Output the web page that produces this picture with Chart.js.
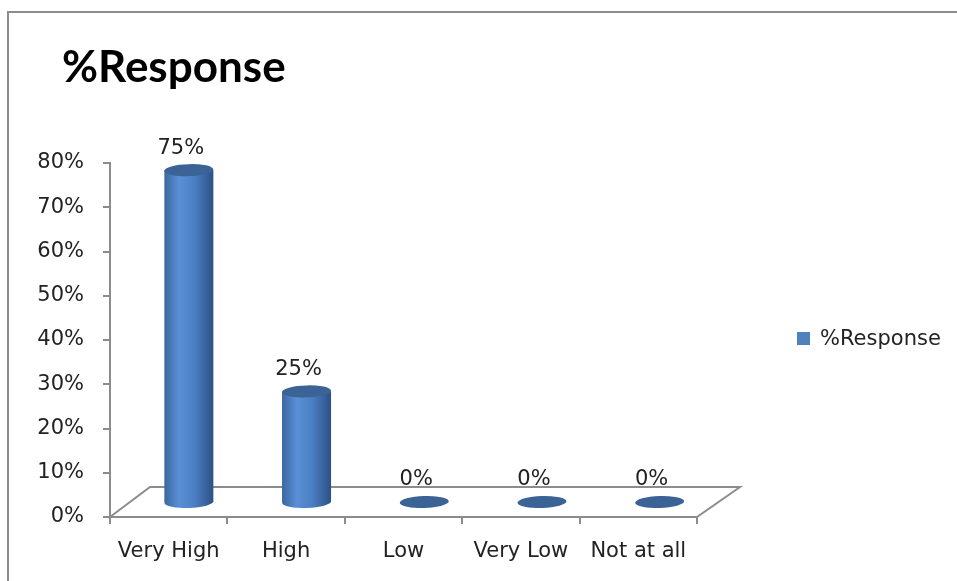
<!DOCTYPE html>
<html lang="en">
<head>
<meta charset="UTF-8">
<title>%Response</title>
<style>
  body { margin: 0; background: white; }
  #wrap { position: relative; width: 957px; height: 581px; }
</style>
</head>
<body>
<div id="wrap"><canvas id="responseChart"></canvas></div>
<script src="https://cdn.jsdelivr.net/npm/chart.js"></script>
<script>
const categories = ['Very High', 'High', 'Low', 'Very Low', 'Not at all'];
const responses = [75, 25, 0, 0, 0];
const yTicks = [0, 10, 20, 30, 40, 50, 60, 70, 80];
const seriesName = '%Response';

const axisGray = '#8c8c8c';
const textColor = '#222222';
const labelFont = { family: 'DejaVu Sans', size: 21 };
const seriesBlue = '#4f81bd';

// depth of the 3D floor (back edge sits up and to the right of the front edge)
const depthLeft = 40, depthRight = 43, depthY = 30;
const cylRx = 24.5, cylRy = 6;

function depthAt(area, x) {
    return depthLeft + (depthRight - depthLeft) * (x - area.left) / (area.right - area.left);
}

const cylinderPlugin = {
    id: 'cylinders',
    beforeDatasetsDraw(chart) {
        const { ctx, chartArea: a } = chart;
        ctx.save();
        // outer frame (only top and left edges fall inside the canvas)
        ctx.strokeStyle = axisGray;
        ctx.lineWidth = 2;
        ctx.beginPath();
        ctx.moveTo(8, 581);
        ctx.lineTo(8, 12);
        ctx.lineTo(957, 12);
        ctx.stroke();

        // floor outline behind the bars
        ctx.beginPath();
        ctx.moveTo(a.left, a.bottom);
        ctx.lineTo(a.left + depthLeft, a.bottom - depthY);
        ctx.lineTo(a.right + depthRight, a.bottom - depthY);
        ctx.lineTo(a.right, a.bottom);
        ctx.stroke();
        ctx.restore();
    },
    afterDatasetsDraw(chart) {
        const { ctx, chartArea: a } = chart;
        const yScale = chart.scales.y;
        const meta = chart.getDatasetMeta(0);
        ctx.save();
        meta.data.forEach((bar, i) => {
            const value = chart.data.datasets[0].data[i];
            const dx = depthAt(a, bar.x) / 2;
            const cx = bar.x + dx;
            const base = yScale.getPixelForValue(0) - depthY / 2;
            const top = yScale.getPixelForValue(value) - depthY / 2;

            const grad = ctx.createLinearGradient(cx - cylRx, 0, cx + cylRx, 0);
            grad.addColorStop(0, '#3a67a0');
            grad.addColorStop(0.3, '#5a8fd6');
            grad.addColorStop(0.6, '#4c80c4');
            grad.addColorStop(1, '#2c5286');

            if (base - top > 0) {
                ctx.fillStyle = grad;
                ctx.fillRect(cx - cylRx, top, cylRx * 2, base - top);
                ctx.beginPath();
                ctx.ellipse(cx, base, cylRx, cylRy, -0.03, 0, Math.PI * 2);
                ctx.fill();
            }
            ctx.fillStyle = '#3b6395';
            ctx.beginPath();
            ctx.ellipse(cx, top, cylRx, cylRy, -0.03, 0, Math.PI * 2);
            ctx.fill();

            // value label above the cylinder
            ctx.fillStyle = textColor;
            ctx.font = `${labelFont.size}px "${labelFont.family}"`;
            ctx.textAlign = 'center';
            ctx.textBaseline = 'middle';
            ctx.fillText(value + '%', cx - 8, top - 22);
        });
        ctx.restore();
    },
    afterDraw(chart) {
        const { ctx } = chart;
        ctx.save();
        ctx.fillStyle = '#000';
        ctx.font = 'bold 44px Lato';
        ctx.textAlign = 'left';
        ctx.textBaseline = 'alphabetic';
        ctx.fillText(seriesName, 62, 82);

        // legend on the right
        ctx.fillStyle = seriesBlue;
        ctx.fillRect(797, 332, 13, 13);
        ctx.fillStyle = textColor;
        ctx.font = `${labelFont.size}px "${labelFont.family}"`;
        ctx.textBaseline = 'middle';
        ctx.fillText(chart.data.datasets[0].label, 820, 340);
        ctx.restore();
    }
};

new Chart(document.getElementById('responseChart'), {
    type: 'bar',
    data: {
        labels: categories,
        datasets: [{
            label: seriesName,
            data: responses,
            backgroundColor: 'rgba(0,0,0,0)',
            borderWidth: 0
        }]
    },
    options: {
        responsive: true,
        maintainAspectRatio: false,
        animation: false,
        devicePixelRatio: 1,
        layout: { padding: { top: 163, right: 260, bottom: 0, left: 0 } },
        plugins: {
            legend: { display: false },
            tooltip: { enabled: false }
        },
        scales: {
            x: {
                grid: { drawOnChartArea: false, offset: true, tickLength: 7, color: axisGray, lineWidth: 2 },
                border: { color: axisGray, width: 2 },
                ticks: { font: labelFont, color: textColor, padding: 15, maxRotation: 0, autoSkip: false },
                afterFit: s => { s.height = 64; }
            },
            y: {
                min: 0,
                max: 80,
                afterBuildTicks: s => { s.ticks = yTicks.map(v => ({ value: v })); },
                grid: { drawOnChartArea: false, tickLength: 7, color: axisGray, lineWidth: 2 },
                border: { color: axisGray, width: 2 },
                ticks: { font: labelFont, color: textColor, padding: 19, callback: v => v + '%' },
                afterFit: s => { s.width = 110; }
            }
        }
    },
    plugins: [cylinderPlugin]
});
</script>
</body>
</html>
